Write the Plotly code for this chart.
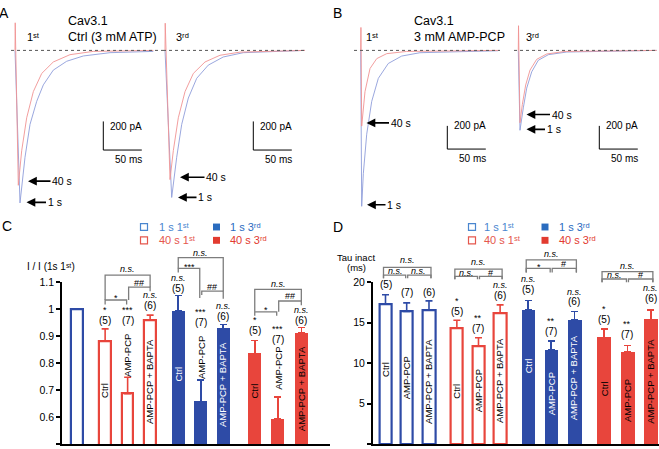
import plotly.graph_objects as go

W, H = 659, 449
FONT = "Arial, Liberation Sans, sans-serif"
BLUE = "#2e4ba6"
RED = "#e8453c"
TR_BLUE = "#8f9dda"
TR_RED = "#f19393"
GRAY = "#7d7d7d"
ST, RD = "\u02e2\u1d57", "\u02b3\u1d48"   # superscript "st" / "rd"

# ---------------- data: current traces (ms, pA) ----------------
A1_T_1S = [0, 6.5, 13.0, 19.5, 28.2, 36.8, 49.7, 67.1, 88.7, 123.4, 179.6]
A1_I_1S = [0, -1066, -747, -517, -356, -241, -138, -76, -39, -16, -7]
A1_T_40S = [0, 0.3, 4.3, 8.7, 15.2, 23.8, 34.7, 49.7, 71.4, 101.7, 179.6]
A1_I_40S = [0, 193, -943, -701, -471, -288, -161, -81, -30, -7, 0]

A2_T_1S = [0, 8.7, 15.2, 21.7, 30.3, 41.2, 56.2, 75.7, 101.7, 181.8]
A2_I_1S = [0, -1028, -747, -517, -333, -195, -103, -46, -16, 0]
A2_T_40S = [0, 0.3, 6.5, 10.8, 17.3, 26.0, 36.8, 51.9, 71.4, 97.4, 181.8]
A2_I_40S = [0, 190, -903, -701, -471, -288, -161, -81, -34, -12, 0]

B1_T_1S = [0, 1.3, 3.4, 7.8, 14.3, 22.9, 35.8, 53.2, 77.0, 178.3]
B1_I_1S = [0, -1345, -1064, -723, -440, -241, -113, -49, -20, -3]
B1_T_40S = [0, 0.3, 1.3, 5.6, 12.1, 20.8, 33.8, 59.7, 178.3]
B1_I_40S = [0, 198, -653, -355, -156, -71, -28, -9, 0]

B2_T_1S = [0, 2.2, 6.5, 10.9, 17.4, 26.0, 39.0, 62.9, 179.7]
B2_I_1S = [0, -689, -496, -326, -185, -85, -37, -14, 0]
B2_T_40S = [0, 0.3, 2.2, 5.2, 9.6, 15.2, 23.9, 36.9, 60.6, 179.7]
B2_I_40S = [0, 213, -624, -468, -298, -170, -77, -31, -9, 0]

SCALE_PA = 200
SCALE_MS = 50

# ---------------- data: bar charts ----------------
CONDITIONS = ["Ctrl", "AMP-PCP", "AMP-PCP + BAPTA"]
N_CELLS = ["(5)", "(7)", "(6)"]

# C: I / I(1s 1st)
C_REF = [1.0]
C_40S_1ST = [0.881, 0.687, 0.960]
C_40S_1ST_SEM = [0.046, 0.061, 0.018]
C_1S_3RD = [0.993, 0.657, 0.929]
C_1S_3RD_SEM = [0.058, 0.081, 0.015]
C_40S_3RD = [0.835, 0.593, 0.911]
C_40S_3RD_SEM = [0.049, 0.082, 0.021]
C_STARS = ["*", "***", "<i>n.s.</i>", "<i>n.s.</i>", "***", "<i>n.s.</i>", "*", "***", "<i>n.s.</i>"]
C_PAIR = [["*", "##", "<i>n.s.</i>"], ["***", "##", "<i>n.s.</i>"], ["*", "##", "<i>n.s.</i>"]]

# D: Tau inact (ms)
D_1S_1ST = [17.3, 16.4, 16.6]
D_1S_1ST_SEM = [1.15, 1.05, 1.1]
D_40S_1ST = [14.35, 12.15, 16.2]
D_40S_1ST_SEM = [0.95, 1.0, 1.0]
D_1S_3RD = [16.6, 11.65, 15.3]
D_1S_3RD_SEM = [1.15, 1.1, 1.1]
D_40S_3RD = [13.15, 11.35, 15.4]
D_40S_3RD_SEM = [1.05, 0.85, 1.2]
D_STARS = ["", "", "", "*", "**", "<i>n.s.</i>", "<i>n.s.</i>", "**", "<i>n.s.</i>", "*", "**", "<i>n.s.</i>"]
D_PAIR = [["<i>n.s.</i>", "<i>n.s.</i>", "<i>n.s.</i>"], ["<i>n.s.</i>", "#", "<i>n.s.</i>"],
          ["*", "#", "<i>n.s.</i>"], ["<i>n.s.</i>", "#", "<i>n.s.</i>"]]


def fx(x):
    return x / W


def fy(y):
    return 1 - y / H


fig = go.Figure()
annotations = []
shapes = []
layout = {}


def text(x, y, s, size=10, color="black", xanchor="center", angle=0):
    annotations.append(dict(x=fx(x), y=fy(y), xref="paper", yref="paper", text=s, showarrow=False,
                            xanchor=xanchor, yanchor="middle", textangle=angle,
                            font=dict(family=FONT, size=size, color=color)))


def ax_names(k):
    return ("xaxis" if k == 1 else f"xaxis{k}", "yaxis" if k == 1 else f"yaxis{k}",
            "x" if k == 1 else f"x{k}", "y" if k == 1 else f"y{k}")


# ---------------- panels A and B: traces ----------------
PX_MS = 0.77
Y_TOP, Y_BOT, Y_BASE = 4, 214, 45
trace_panels = [
    # (x_left, x_right, origin_x, px_per_pA, data, scale bar corner)
    (11, 163, 15, 0.145, (A1_T_1S, A1_I_1S, A1_T_40S, A1_I_40S), (103.3, 146)),
    (163, 306, 165, 0.145, (A2_T_1S, A2_I_1S, A2_T_40S, A2_I_40S), (253.3, 146)),
    (354, 500, 360.7, 0.1175, (B1_T_1S, B1_I_1S, B1_T_40S, B1_I_40S), (447.3, 145)),
    (514, 658, 518.3, 0.1175, (B2_T_1S, B2_I_1S, B2_T_40S, B2_I_40S), (599.3, 145)),
]
for k, (xl, xr, ox, sy, (t1, i1, t40, i40), (sbx, sby)) in enumerate(trace_panels, start=1):
    xa, ya, xr_, yr_ = ax_names(k)
    layout[xa] = dict(domain=[fx(xl), fx(xr)], range=[(xl - ox) / PX_MS, (xr - ox) / PX_MS],
                      visible=False, anchor=yr_)
    layout[ya] = dict(domain=[fy(Y_BOT), fy(Y_TOP)], range=[-(Y_BOT - Y_BASE) / sy, (Y_BASE - Y_TOP) / sy],
                      visible=False, anchor=xr_)
    fig.add_trace(go.Scatter(x=t1, y=i1, mode="lines", line=dict(color=TR_BLUE, width=0.9),
                             xaxis=xr_, yaxis=yr_))
    fig.add_trace(go.Scatter(x=t40, y=i40, mode="lines", line=dict(color=TR_RED, width=0.9),
                             xaxis=xr_, yaxis=yr_))
    shapes.append(dict(type="line", xref=f"{xr_} domain", yref=yr_, x0=0, x1=1, y0=0, y1=0,
                       line=dict(color="#555", width=1, dash="3px,3px")))
    t0 = (sbx - ox) / PX_MS
    c0 = -(sby - Y_BASE) / sy
    fig.add_trace(go.Scatter(x=[t0, t0, t0 + SCALE_MS], y=[c0 + SCALE_PA, c0, c0], mode="lines",
                             line=dict(color="black", width=1), xaxis=xr_, yaxis=yr_))
    text(sbx + 4.5, sby - 24, f"{SCALE_PA} pA", xanchor="left")
    text(sbx + 10, sby + 9.5, f"{SCALE_MS} ms", xanchor="left")

text(4, 7, "A", size=14)
text(337, 7, "B", size=14)
text(66, 15, "Cav3.1", size=12.5, xanchor="left")
text(66, 31, "Ctrl (3 mM ATP)", size=12.5, xanchor="left")
text(412, 15, "Cav3.1", size=12.5, xanchor="left")
text(412, 31, "3 mM AMP-PCP", size=12.5, xanchor="left")
text(25, 31, "1" + ST, size=11, xanchor="left")
text(174, 31, "3" + RD, size=11, xanchor="left")
text(364, 31, "1" + ST, size=11, xanchor="left")
text(524, 31, "3" + RD, size=11, xanchor="left")

arrows = [("40 s", 28, 177.5, 34), ("1 s", 26.5, 199, 28), ("40 s", 180, 173.5, 36), ("1 s", 178, 194, 27),
          ("40 s", 366.5, 118.5, 34), ("1 s", 367, 201.5, 27), ("40 s", 526.5, 110, 35), ("1 s", 526.5, 125, 27)]
for s, hx, hy, off in arrows:
    annotations.append(dict(x=fx(hx), y=fy(hy), xref="paper", yref="paper", text=s, showarrow=True,
                            ax=off, ay=0, arrowhead=2, arrowsize=1.1, arrowwidth=1.6, arrowcolor="black",
                            font=dict(family=FONT, size=10.5, color="black")))

# ---------------- panels C and D: bars ----------------
Y_AX_BOT, Y_AX_TOP = 444, 280
C_X = [0, 1.25, 2.25, 3.25, 4.5, 5.5, 6.5, 7.9, 8.92, 9.97]
C_SLOT, C_X0 = 22.5, 77
D_X = [0, 0.95, 1.95, 3.2, 4.17, 5.14, 6.4, 7.43, 8.47, 9.8, 10.85, 11.9]
D_SLOT, D_X0 = 22.3, 385.5


def cx(i):
    return C_X0 + C_X[i] * C_SLOT


def dx(i):
    return D_X0 + D_X[i] * D_SLOT


def add_bars(xs, ys, sem, color, filled, width, xr_, yr_):
    err = None
    if sem is not None:
        err = dict(type="data", array=sem, arrayminus=[0] * len(sem), symmetric=False,
                   color=color, thickness=1.6, width=3.5)
    fig.add_trace(go.Bar(x=xs, y=ys, width=width, error_y=err, xaxis=xr_, yaxis=yr_,
                         marker=dict(color=color if filled else "white",
                                     line=dict(color=color, width=0 if filled else 2.2))))


for xa, ya, xr_, yr_, x_left, x_right, x0, slot, rng, tv, tt in [
        ("xaxis5", "yaxis5", "x5", "y5", 62, 330, C_X0, C_SLOT, [0.5, 1.1],
         [0.5, 0.6, 0.7, 0.8, 0.9, 1.0, 1.1], ["0.5", "0.6", "0.7", "0.8", "0.9", "1", "1.1"]),
        ("xaxis6", "yaxis6", "x6", "y6", 372.7, 659, D_X0, D_SLOT, [0, 20],
         [0, 5, 10, 15, 20], ["0", "5", "10", "15", "20"])]:
    layout[xa] = dict(domain=[fx(x_left), fx(x_right)], range=[(x_left - x0) / slot, (x_right - x0) / slot],
                      showline=True, linecolor="black", linewidth=1.5, ticks="", showticklabels=False,
                      showgrid=False, zeroline=False, anchor=yr_)
    layout[ya] = dict(domain=[fy(Y_AX_BOT), fy(Y_AX_TOP)], range=rng, tickvals=tv, ticktext=tt,
                      showline=True, linecolor="black", linewidth=1.5, ticks="outside", ticklen=4,
                      tickwidth=1.5, tickcolor="black", showgrid=False, zeroline=False, anchor=xr_,
                      tickfont=dict(family=FONT, size=10.5, color="black"))

# C bars
add_bars(C_X[0:1], C_REF, None, BLUE, False, 0.52, "x5", "y5")
add_bars(C_X[1:4], C_40S_1ST, C_40S_1ST_SEM, RED, False, 0.52, "x5", "y5")
add_bars(C_X[4:7], C_1S_3RD, C_1S_3RD_SEM, BLUE, True, 0.58, "x5", "y5")
add_bars(C_X[7:10], C_40S_3RD, C_40S_3RD_SEM, RED, True, 0.58, "x5", "y5")
# D bars
add_bars(D_X[0:3], D_1S_1ST, D_1S_1ST_SEM, BLUE, False, 0.56, "x6", "y6")
add_bars(D_X[3:6], D_40S_1ST, D_40S_1ST_SEM, RED, False, 0.56, "x6", "y6")
add_bars(D_X[6:9], D_1S_3RD, D_1S_3RD_SEM, BLUE, True, 0.62, "x6", "y6")
add_bars(D_X[9:12], D_40S_3RD, D_40S_3RD_SEM, RED, True, 0.62, "x6", "y6")

# bar labels (vertical)
C_LAB_Y = [390, 354, 381, 373.3, 356, 384, 390, 367, 388]
C_LAB_COL = ["black", "black", "black", "white", "black", "white", "black", "black", "black"]
for j in range(9):
    text(cx(j + 1), C_LAB_Y[j], CONDITIONS[j % 3], size=9.5, color=C_LAB_COL[j], angle=-90)
D_LAB_Y = [368.3, 376.7, 380, 390, 390, 380, 365, 393.3, 377, 388.3, 400, 380]
D_LAB_COL = ["black"] * 6 + ["white"] * 3 + ["black"] * 3
for j in range(12):
    text(dx(j), D_LAB_Y[j], CONDITIONS[j % 3], size=9.5, color=D_LAB_COL[j], angle=-90)


def star_text(x, y_n, s):
    # significance mark sitting just above the (n) label
    if s:
        text(x, y_n - 10.6, s, size=9)


# stars and n above bars
C_N_Y = [318.3, 318.3, 303.3, 286, 321, 314.3, 329.3, 337.7, 318.3]
for j in range(9):
    star_text(cx(j + 1), C_N_Y[j], C_STARS[j])
    text(cx(j + 1), C_N_Y[j], N_CELLS[j % 3], size=10)
D_N_Y = [282.3, 290, 290, 309.3, 327.3, 293.3, 287.3, 330, 300, 317.7, 332.7, 296.7]
for j in range(12):
    star_text(dx(j), D_N_Y[j], D_STARS[j])
    text(dx(j), D_N_Y[j], N_CELLS[j % 3], size=10)


def bracket(x1, x2, ytop, yl1, yl2):
    shapes.append(dict(type="path", xref="paper", yref="paper",
                       path=f"M{fx(x1)},{fy(yl1)} L{fx(x1)},{fy(ytop)} L{fx(x2)},{fy(ytop)} L{fx(x2)},{fy(yl2)}",
                       line=dict(color=GRAY, width=1.3)))


def ptext(x, y, s):
    text(x, y + (2.5 if "*" in s else 0), s, size=9)


# C brackets: (small left, small right, big) per group
C_BR = [
    (1, (298, 302.5, 302.5), (285, 298, 289), (272.7, 298, 285), (293, 280.5, 267)),
    (4, (266, 270, 296), (289, 293, 296.7), (255, 266, 289), (261.7, 284.5, 250)),
    (7, (310, 314, 314), (299, 310, 303.3), (287.3, 310, 299), (306, 294, 281.7)),
]
for g, (i0, b1, b2, b3, ty) in enumerate(C_BR):
    a, b, c = cx(i0), cx(i0 + 1), cx(i0 + 2)
    bracket(a, b - 1, *b1)
    bracket(b + 1, c, *b2)
    bracket(a, c, *b3)
    ptext((a + b) / 2, ty[0], C_PAIR[g][0])
    ptext((b + c) / 2, ty[1], C_PAIR[g][1])
    ptext((a + c) / 2, ty[2], C_PAIR[g][2])

# D brackets: (big top, small top, legs bottom, small text y, big text y)
D_BR = [(0, 265, 272.7, 276, 268.3, 257.3), (3, 266.7, 274, 277, 270.5, 259.3),
        (6, 257.3, 266, 270, 262, 251.7), (9, 269.3, 276.7, 280, 272.5, 263.3)]
for g, (i0, ybig, ysm, yleg, tys, tyb) in enumerate(D_BR):
    a, b, c = dx(i0) - 2, dx(i0 + 1), dx(i0 + 2) + 2
    bracket(a, c, ybig, yleg, yleg)
    bracket(a, b - 1, ysm, yleg, yleg)
    bracket(b + 1, c, ysm, yleg, yleg)
    ptext((a + b) / 2, tys, D_PAIR[g][0])
    ptext((b + c) / 2, tys, D_PAIR[g][1])
    ptext((a + c) / 2, tyb, D_PAIR[g][2])

# legends (drawn as squares + text)
LEG_LABELS = ["1 s 1" + ST, "40 s 1" + ST, "1 s 3" + RD, "40 s 3" + RD]
LEG_COL = ["#4a86cf", "#e5574d", "#2a6cbf", "#e23b30"]
for sx_o, sx_f, tx_o, tx_f in [(140.5, 213, 157, 228), (468.5, 541.5, 482, 557)]:
    for r, yy in enumerate([224, 237.5]):
        c_o, c_f = LEG_COL[r], LEG_COL[r + 2]
        shapes.append(dict(type="rect", xref="paper", yref="paper", x0=fx(sx_o), x1=fx(sx_o + 7),
                           y0=fy(yy + 3.5), y1=fy(yy - 3.5), line=dict(color=c_o, width=1.2),
                           fillcolor="white"))
        shapes.append(dict(type="rect", xref="paper", yref="paper", x0=fx(sx_f), x1=fx(sx_f + 7),
                           y0=fy(yy + 3.5), y1=fy(yy - 3.5), line=dict(color=c_f, width=0),
                           fillcolor=c_f))
        text(tx_o, yy, LEG_LABELS[r], size=11, color=c_o, xanchor="left")
        text(tx_f, yy, LEG_LABELS[r + 2], size=11, color=c_f, xanchor="left")

text(7, 223, "C", size=14)
text(338, 224, "D", size=14)
text(25, 264, "I / I (1s 1" + ST + ")", size=10, xanchor="left")
text(335, 255, "Tau inact", size=9.5, xanchor="left")
annotations.append(dict(x=fx(368), y=fy(265), xref="paper", yref="paper", text="(ms)", showarrow=False,
                        xanchor="right", yanchor="middle", font=dict(family=FONT, size=9.5, color="black")))

fig.update_layout(width=W, height=H, margin=dict(l=0, r=0, t=0, b=0), showlegend=False,
                  paper_bgcolor="white", plot_bgcolor="white", bargap=0,
                  annotations=annotations, shapes=shapes, **layout)

# page body margin would shift the figure, so remove it
fig.write_html("out.html", config={"displayModeBar": False},
               post_script="document.body.style.margin='0px';")
